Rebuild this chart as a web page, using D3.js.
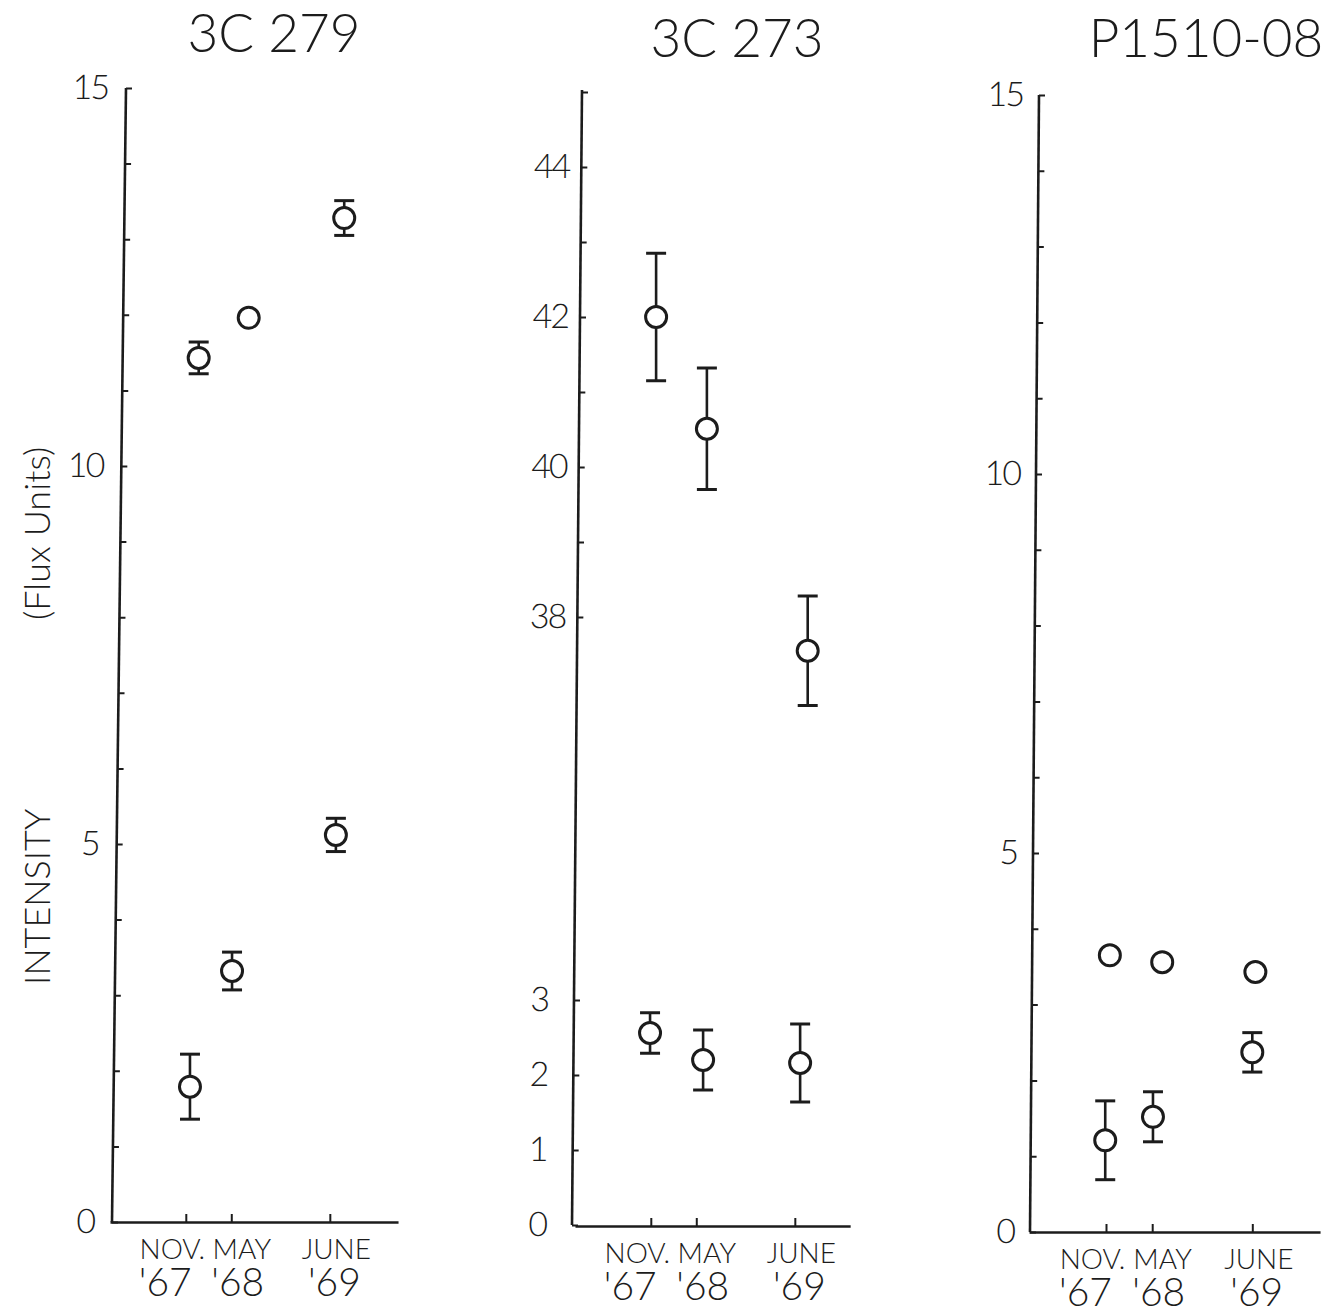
<!DOCTYPE html>
<html>
<head>
<meta charset="utf-8">
<script src="https://cdn.jsdelivr.net/npm/d3@7"></script>
<style>
  html, body { margin: 0; padding: 0; background: #fff; }
  svg text { font-family: "Lato", "Liberation Sans", sans-serif; font-weight: 300; }
</style>
</head>
<body>
<svg id="chart" width="1331" height="1314"></svg>
<script>

// Epochs along the bottom (months counted from Jan 1967)
const epochMonths = [10, 16, 29];
const epochNames = ["NOV.", "MAY", "JUNE"];
const epochYears = ["'67", "'68", "'69"];

const titles = ["3C 279", "3C 273", "P1510-08"];

// y ticks
const ticks0to15 = [0, 1, 2, 3, 4, 5, 6, 7, 8, 9, 10, 11, 12, 13, 14, 15];
const labels0to15 = [0, 5, 10, 15];
const ticks38to45 = [38, 39, 40, 41, 42, 43, 44, 45];
const labels38to45 = [38, 40, 42, 44];
const ticks0to3 = [0, 1, 2, 3];
const labels0to3 = [0, 1, 2, 3];

// data: t = month of the plotted observation, v = flux units, err = half error bar
const src279Upper = [
  { t: 11.7, v: 11.43, err: 0.21 },
  { t: 18.3, v: 11.96, err: 0 },
  { t: 30.9, v: 13.28, err: 0.23 }
];
const src279Lower = [
  { t: 10.55, v: 1.79, err: 0.43 },
  { t: 16.1, v: 3.32, err: 0.25 },
  { t: 29.8, v: 5.12, err: 0.22 }
];
const src273Upper = [
  { t: 10.7, v: 42.0, err: 0.85 },
  { t: 17.4, v: 40.51, err: 0.81 },
  { t: 30.7, v: 37.55, err: 0.73 }
];
const src273Lower = [
  { t: 9.9, v: 2.56, err: 0.27 },
  { t: 16.9, v: 2.2, err: 0.4 },
  { t: 29.7, v: 2.16, err: 0.52 }
];
const src1510Upper = [
  { t: 10.5, v: 3.65, err: 0 },
  { t: 17.3, v: 3.56, err: 0 },
  { t: 29.4, v: 3.43, err: 0 }
];
const src1510Lower = [
  { t: 9.9, v: 1.21, err: 0.52 },
  { t: 16.1, v: 1.52, err: 0.33 },
  { t: 29.0, v: 2.37, err: 0.26 }
];

const ink = "#1c1c1c";
const svg = d3.select("#chart");

// hand lettering under the ticks sits a little off-centre
const nameNudge = [-14, 10, 6];
const yearNudge = [-21, 6, 4];

// Layout of the three hand-drawn panels
const panels = [
  {
    title: titles[0], titleX: 274, titleY: 52,
    axisTop: [126, 88], axisBottom: [112, 1222],
    x0: 110, monthPx: 7.58, xEnd: 38, baseY: 1222,
    yAxes: [{ domain: [0, 15], range: [1222, 88], ticks: ticks0to15, labels: labels0to15, pad: 18 }],
    series: [{ data: src279Upper, axis: 0 }, { data: src279Lower, axis: 0 }]
  },
  {
    title: titles[1], titleX: 737, titleY: 57,
    axisTop: [582, 90], axisBottom: [572, 1225],
    x0: 575, monthPx: 7.58, xEnd: 36.3, baseY: 1226,
    yAxes: [
      { domain: [38, 45], range: [617, 92], ticks: ticks38to45, labels: labels38to45, pad: 12 },
      { domain: [0, 3], range: [1225, 1000], ticks: ticks0to3, labels: labels0to3, pad: 26 }
    ],
    series: [{ data: src273Upper, axis: 0 }, { data: src273Lower, axis: 1 }]
  },
  {
    title: titles[2], titleX: 1206, titleY: 57,
    axisTop: [1039, 95], axisBottom: [1030, 1232],
    x0: 1029, monthPx: 7.7, xEnd: 37.8, baseY: 1232,
    yAxes: [{ domain: [0, 15], range: [1232, 95], ticks: ticks0to15, labels: labels0to15, pad: 16 }],
    series: [{ data: src1510Upper, axis: 0 }, { data: src1510Lower, axis: 0 }]
  }
];

function drawPanel(p) {
  const g = svg.append("g").attr("class", "panel");

  const yScales = p.yAxes.map(a => d3.scaleLinear().domain(a.domain).range(a.range));
  const x = d3.scaleLinear().domain([0, p.xEnd]).range([p.x0, p.x0 + p.xEnd * p.monthPx]);

  // title
  g.append("text")
    .attr("x", p.titleX)
    .attr("y", p.titleY)
    .attr("text-anchor", "middle")
    .attr("font-size", 53)
    .attr("fill", ink)
    .text(p.title);

  // y axis, slightly leaning like the drawn one
  const [xt, yt] = p.axisTop, [xb, yb] = p.axisBottom;
  const slope = (xt - xb) / (yt - yb);
  const skew = Math.atan(slope) * 180 / Math.PI;
  const yAxisG = g.append("g")
    .attr("transform", `translate(${xb - yb * slope},0) skewX(${skew})`);

  p.yAxes.forEach((a, i) => {
    const axis = d3.axisLeft(yScales[i])
      .tickValues(a.ticks)
      .tickSizeInner(-6)
      .tickSizeOuter(0)
      .tickPadding(a.pad)
      .tickFormat(d => a.labels.includes(d) ? d : "");
    const ag = yAxisG.append("g").call(axis)
      .attr("font-family", null)
      .attr("font-size", null);
    ag.select(".domain").remove();
    ag.selectAll(".tick line").attr("stroke", ink).attr("stroke-width", 2);
    ag.selectAll(".tick text")
      .attr("font-size", 34)
      .attr("letter-spacing", -2)
      .attr("fill", ink);
  });

  yAxisG.append("line")
    .attr("x1", 0).attr("x2", 0)
    .attr("y1", yt).attr("y2", yb)
    .attr("stroke", ink)
    .attr("stroke-width", 2.6);

  // x axis with the three epochs
  const xAxis = d3.axisBottom(x)
    .tickValues(epochMonths)
    .tickSizeInner(-8)
    .tickSizeOuter(0)
    .tickPadding(17)
    .tickFormat((d, i) => epochNames[i]);
  const xg = g.append("g")
    .attr("transform", `translate(0,${p.baseY})`)
    .call(xAxis)
    .attr("font-family", null)
    .attr("font-size", null);
  xg.select(".domain").attr("stroke", ink).attr("stroke-width", 2.6);
  xg.selectAll(".tick line").attr("stroke", ink).attr("stroke-width", 2);
  xg.selectAll(".tick text")
    .attr("font-size", 28)
    .attr("fill", ink)
    .attr("x", (d, i) => nameNudge[i]);

  // second line: the year, under each month
  xg.selectAll(".tick")
    .append("text")
    .attr("x", (d, i) => yearNudge[i])
    .attr("y", 74)
    .attr("text-anchor", "middle")
    .attr("font-size", 39)
    .attr("fill", ink)
    .text((d, i) => epochYears[i]);

  // points with error bars
  p.series.forEach(s => {
    const y = yScales[s.axis];
    const pts = g.append("g").selectAll("g")
      .data(s.data)
      .join("g")
      .attr("transform", d => `translate(${x(d.t)},0)`);

    const bars = pts.filter(d => d.err > 0);
    bars.append("line")
      .attr("y1", d => y(d.v - d.err))
      .attr("y2", d => y(d.v + d.err))
      .attr("stroke", ink)
      .attr("stroke-width", 2.6);
    bars.selectAll("line.cap")
      .data(d => [d.v - d.err, d.v + d.err])
      .join("line")
      .attr("class", "cap")
      .attr("x1", -10).attr("x2", 10)
      .attr("y1", v => y(v))
      .attr("y2", v => y(v))
      .attr("stroke", ink)
      .attr("stroke-width", 3);

    pts.append("circle")
      .attr("cy", d => y(d.v))
      .attr("r", 10.5)
      .attr("fill", "#fff")
      .attr("stroke", ink)
      .attr("stroke-width", 3);
  });
}

panels.forEach(drawPanel);

// shared y label, written up the left edge
svg.append("text")
  .attr("transform", "translate(50,985) rotate(-90)")
  .attr("font-size", 36)
  .attr("fill", ink)
  .text("INTENSITY");
svg.append("text")
  .attr("transform", "translate(50,620) rotate(-90)")
  .attr("font-size", 36)
  .attr("fill", ink)
  .text("(Flux Units)");

</script>
</body>
</html>
